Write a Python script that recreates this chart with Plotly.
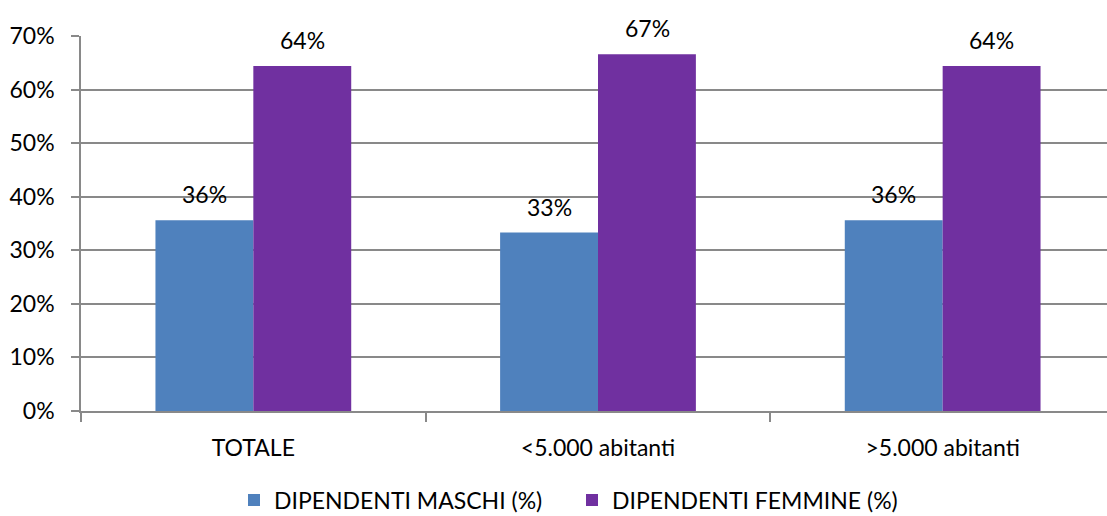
import plotly.graph_objects as go

# Share of employees by sex, per municipality size class
categories = ["TOTALE", "<5.000 abitanti", ">5.000 abitanti"]
maschi = [0.356, 0.333, 0.356]
femmine = [0.644, 0.666, 0.644]
series_names = ["DIPENDENTI MASCHI (%)", "DIPENDENTI FEMMINE (%)"]
y_ticks = [0, 0.1, 0.2, 0.3, 0.4, 0.5, 0.6, 0.7]

BLUE = "#4F81BD"
PURPLE = "#7030A0"
GRID = "#898989"
FONT = "Lato"

fig = go.Figure()
fig.add_trace(go.Bar(x=categories, y=maschi, name=series_names[0],
                     marker=dict(color=BLUE, line=dict(width=0))))
fig.add_trace(go.Bar(x=categories, y=femmine, name=series_names[1],
                     marker=dict(color=PURPLE, line=dict(width=0))))

# value labels above each bar
half_bar_px = 49
for vals, shift in ((maschi, -half_bar_px), (femmine, half_bar_px)):
    for cat, v in zip(categories, vals):
        fig.add_annotation(x=cat, y=v, text=f"{v:.0%}", showarrow=False,
                           xshift=shift, yshift=26, yanchor="middle",
                           font=dict(family=FONT, size=23, color="#000000"))

fig.update_layout(
    width=1107, height=516,
    margin=dict(l=81, r=0, t=36, b=105, autoexpand=False),
    paper_bgcolor="white", plot_bgcolor="white",
    barmode="group", bargap=0.432, bargroupgap=0,
    font=dict(family=FONT, size=23, color="#000000"),
    showlegend=True,
    legend=dict(orientation="h", xref="container", yref="container",
                x=234 / 1107, xanchor="left", y=16 / 516, yanchor="middle",
                font=dict(family=FONT, size=23), itemwidth=30, traceorder="normal",
                entrywidth=293, entrywidthmode="pixels"),
)
fig.update_xaxes(
    range=[-0.5, 2.5 - 8 / 345],
    showline=True, linecolor=GRID, linewidth=1.5,
    ticks="outside", tickson="boundaries", ticklen=9, tickcolor=GRID, tickwidth=1.5,
    showgrid=False, tickfont=dict(family=FONT, size=23), ticklabelstandoff=16,
)
fig.update_yaxes(
    range=[0, 0.7], tickvals=y_ticks, tickformat=".0%",
    showline=True, linecolor=GRID, linewidth=1.5,
    ticks="outside", ticklen=8, tickcolor=GRID, tickwidth=1.5,
    showgrid=True, gridcolor=GRID, gridwidth=1.5, zeroline=False,
    tickfont=dict(family=FONT, size=23), ticklabelstandoff=12,
)

fig.write_html("out.html")
